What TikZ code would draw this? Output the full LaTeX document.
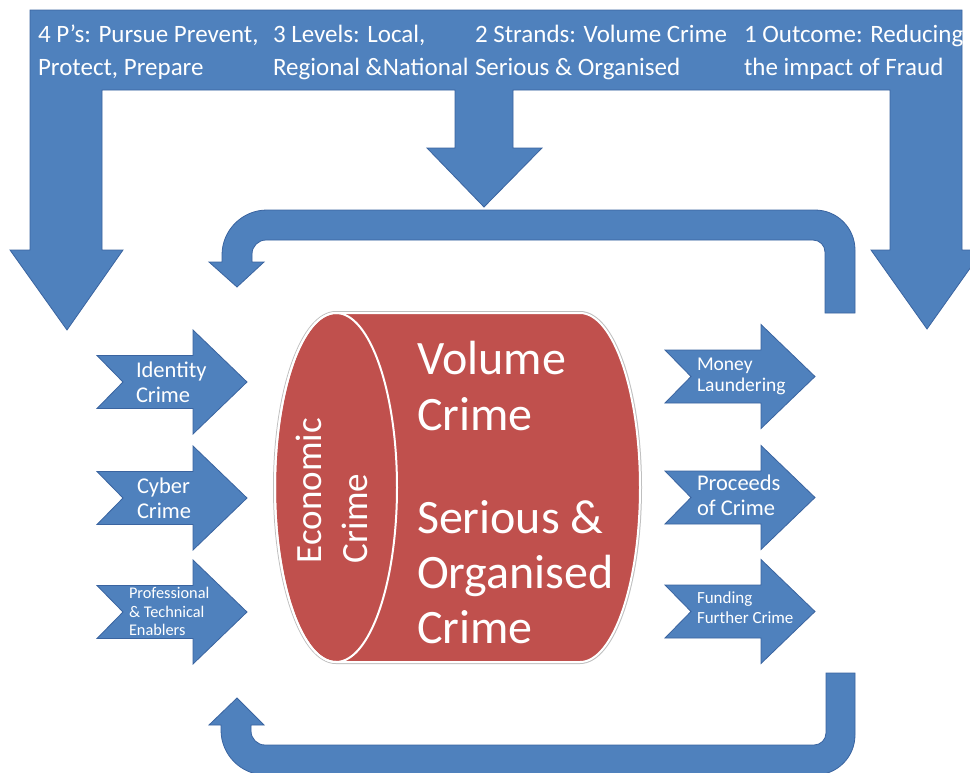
\documentclass[tikz,border=0pt]{standalone}
\usepackage{fontspec}
\setmainfont{Carlito}
\definecolor{blu}{HTML}{4F81BD}
\definecolor{bluedge}{HTML}{3A64A0}
\definecolor{crim}{HTML}{C0504D}
\tikzset{
  blueshape/.style={fill=blu, draw=bluedge, line width=0.8},
  wt/.style={anchor=base west, inner sep=0, outer sep=0, text=white},
  ncarrow/.pic={\path[blueshape] (0,-26.5) -- (96,-26.5) -- (96,-52) -- (150,0) -- (96,52) -- (96,26.5) -- (0,26.5) -- (26,0) -- cycle;}
}
\newcommand{\fs}[1]{\fontsize{#1}{#1}\selectfont}
\begin{document}
\begin{tikzpicture}[x=1pt,y=-1pt]
\clip (0,0) rectangle (970,772);
\fill[white] (0,0) rectangle (970,772);
% top banner with three downward arrows
\path[blueshape] (67,330) -- (123,250) -- (102,250) -- (102,90) -- (455,90) -- (455,148) -- (427,148) -- (484,207) -- (542,148) -- (513,148) -- (513,90) -- (890,90) -- (890,250) -- (871,250) -- (927,329) -- (983,250) -- (962,250) -- (962,10) -- (30,10) -- (30,250) -- (10,250) -- cycle;
% upper U-turn arrow
\path[blueshape] (825,313) -- (855,313) -- (855,250) arc[start angle=0,end angle=-90,radius=40] -- (267,210) arc[start angle=-90,end angle=-180,radius=45] -- (222,262) -- (209,262) -- (237,287) -- (264,262) -- (252,262) -- (252,254) arc[start angle=180,end angle=270,radius=14] -- (813,240) arc[start angle=-90,end angle=0,radius=12] -- cycle;
% lower U-turn arrow
\path[blueshape] (826,673) -- (855,673) -- (855,735) arc[start angle=0,end angle=90,radius=40] -- (266,775) arc[start angle=90,end angle=180,radius=45] -- (221,725) -- (209,725) -- (237,698) -- (264,725) -- (251,725) -- (251,731) arc[start angle=180,end angle=90,radius=14] -- (814,745) arc[start angle=90,end angle=0,radius=12] -- cycle;
% cylinder
\path[draw=black!25, line width=4] (336,313) -- (580,313) arc[start angle=-90,end angle=90,x radius=60,y radius=174.5] -- (336,662) arc[start angle=90,end angle=270,x radius=61,y radius=174.5] -- cycle;
\path[fill=crim, draw=white, line width=2] (336,313) -- (580,313) arc[start angle=-90,end angle=90,x radius=60,y radius=174.5] -- (336,662) arc[start angle=90,end angle=270,x radius=61,y radius=174.5] -- cycle;
\draw[white, line width=2] (336,487.5) ellipse[x radius=61, y radius=174.5];
% small notched arrows
\pic at (97,382) {ncarrow};
\pic at (97,498) {ncarrow};
\pic at (97,612) {ncarrow};
\pic at (665,376.5) {ncarrow};
\pic at (665,497.5) {ncarrow};
\pic at (665,611.5) {ncarrow};
% banner texts
\node[wt, font=\fs{25}] (t1a) at (38,42) {4 P’s: Pursue Prevent,};
\node[wt, font=\fs{25}] (t1b) at (38,75) {Protect, Prepare};
\node[wt, font=\fs{25}] (t2a) at (273,42) {3 Levels: Local,};
\node[wt, font=\fs{25}] (t2b) at (273,75) {Regional \&National};
\node[wt, font=\fs{25}] (t3a) at (475,42) {2 Strands: Volume Crime};
\node[wt, font=\fs{25}] (t3b) at (475,75) {Serious \& Organised};
\node[wt, font=\fs{25}] (t4a) at (744,42) {1 Outcome: Reducing};
\node[wt, font=\fs{25}] (t4b) at (744,75) {the impact of Fraud};
% cylinder texts
\node[wt, font=\fs{37}, rotate=90] (ec1) at (321,563) {Economic};
\node[wt, font=\fs{37}, rotate=90] (ec2) at (367,563) {Crime};
\node[wt, font=\fs{48}] (v1) at (417,374) {Volume};
\node[wt, font=\fs{48}] (v2) at (417,430) {Crime};
\node[wt, font=\fs{48}] (s1) at (417,533) {Serious \&};
\node[wt, font=\fs{48}] (s2) at (417,588) {Organised};
\node[wt, font=\fs{48}] (s3) at (417,643) {Crime};
% left arrow texts
\node[wt, font=\fs{22.5}] (id1) at (136,377) {Identity};
\node[wt, font=\fs{22.5}] (id2) at (136,402) {Crime};
\node[wt, font=\fs{22.5}] (cy1) at (137,493) {Cyber};
\node[wt, font=\fs{22.5}] (cy2) at (137,518) {Crime};
\node[wt, font=\fs{16.3}] (pr1) at (129,598) {Professional};
\node[wt, font=\fs{16.3}] (pr2) at (129,617) {\& Technical};
\node[wt, font=\fs{16.3}] (pr3) at (129,635) {Enablers};
% right arrow texts
\node[wt, font=\fs{19.5}] (ml1) at (697,370) {Money};
\node[wt, font=\fs{19.5}] (ml2) at (697,391) {Laundering};
\node[wt, font=\fs{22.5}] (pc1) at (697,490) {Proceeds};
\node[wt, font=\fs{22.5}] (pc2) at (697,515) {of Crime};
\node[wt, font=\fs{17}] (fu1) at (697,603) {Funding};
\node[wt, font=\fs{17}] (fu2) at (697,623) {Further Crime};
\end{tikzpicture}
\end{document}
